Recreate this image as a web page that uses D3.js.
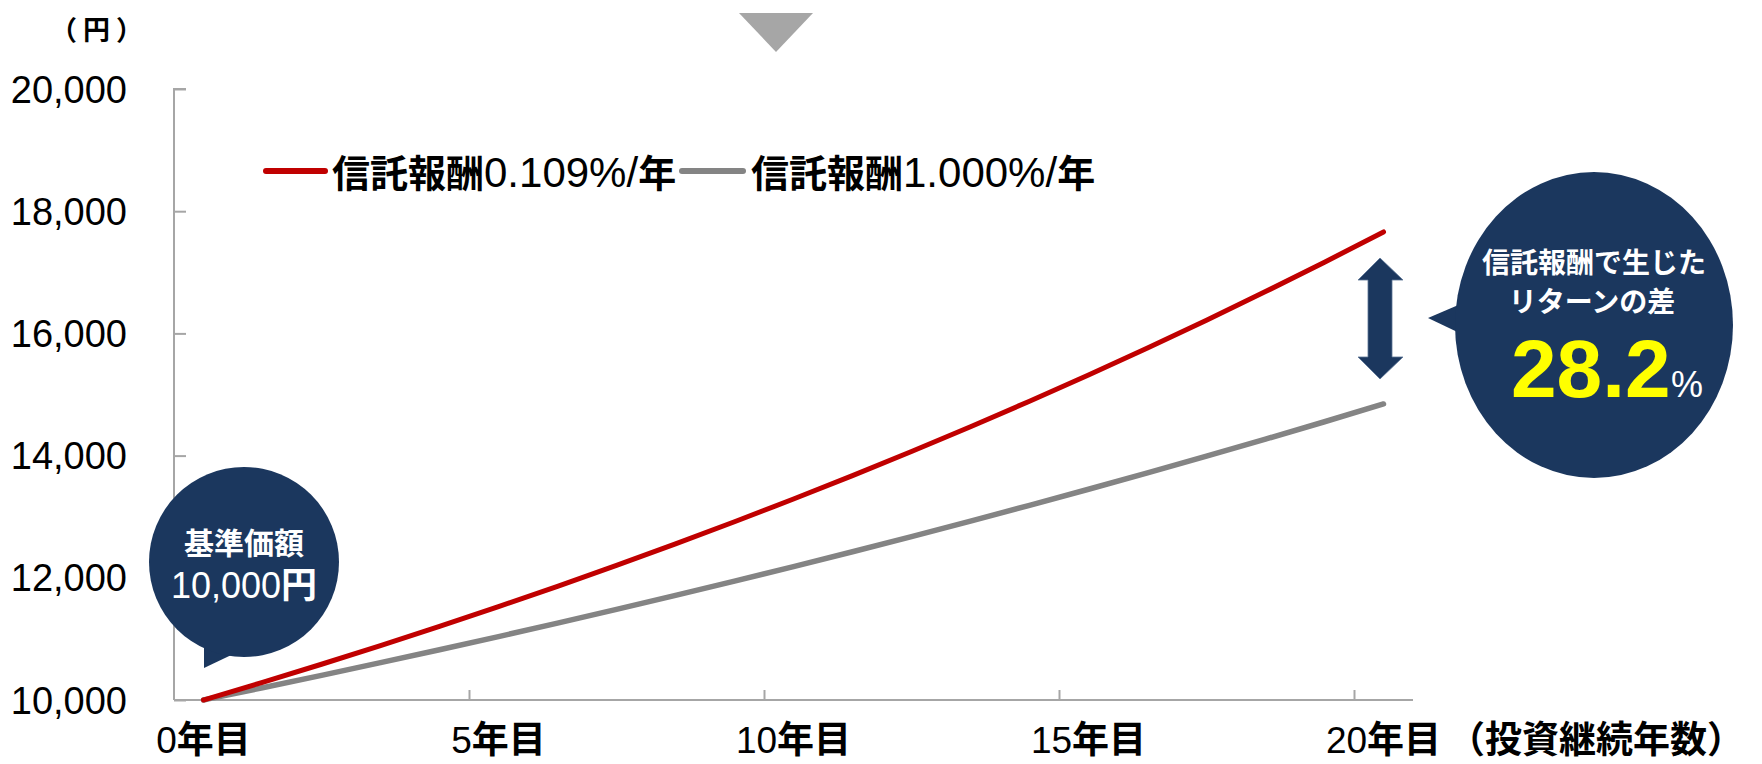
<!DOCTYPE html>
<html><head><meta charset="utf-8">
<script src="https://cdn.jsdelivr.net/npm/d3@7"></script>
<style>body{margin:0;background:#fff}svg{display:block}</style>
</head><body>
<svg id="c" width="1762" height="764"></svg>
<script>
const years = [0,1,2,3,4,5,6,7,8,9,10,11,12,13,14,15,16,17,18,19,20];
const lowFee = [10000,10288,10585,10890,11204,11528,11860,12202,12554,12917,13289,13672,14067,14472,14890,15319,15761,16216,16684,17165,17660];
const highFee = [10000,10200,10403,10611,10822,11038,11258,11483,11712,11946,12184,12427,12675,12928,13186,13449,13717,13991,14270,14554,14845];
const seriesNames = ["信託報酬0.109%/年","信託報酬1.000%/年"];
const yTicks = [10000,12000,14000,16000,18000,20000];
const xTickYears = [0,5,10,15,20];
const xTickLabels = ["0年目","5年目","10年目","15年目","20年目"];
const yUnit = "（円）";
const xUnit = "（投資継続年数）";
const baseLabel = ["基準価額","10,000円"];
const diffLabel = ["信託報酬で生じた","リターンの差"];
const diffValue = "28.2";

const NAVY = "#1b375e", RED = "#c00000", GRAY = "#848484", AXIS = "#a6a6a6";
const svg = d3.select("#c");
const x = d3.scaleLinear().domain([-0.5, 20.5]).range([174, 1413]);
const y = d3.scaleLinear().domain([10000, 20000]).range([700, 89]);
const CJK = "'Noto Sans CJK JP', sans-serif";
const LAT = "'Liberation Sans', Arial, sans-serif";

// mixed text: ascii runs normal weight latin, others bold CJK
function mixed(sel, str, asciiW, cjkW, asciiSize){
  const runs = str.match(/[\x20-\x7e]+|[^\x20-\x7e]+/g);
  runs.forEach(r=>{
    const a = /^[\x20-\x7e]+$/.test(r);
    const t = sel.append("tspan").text(r)
      .attr("font-family", a ? LAT : CJK)
      .attr("font-weight", a ? asciiW : cjkW);
    if (a && asciiSize) t.attr("font-size", asciiSize);
  });
}

// axes
const gy = svg.append("g").attr("transform","translate(174,0)")
  .call(d3.axisRight(y).tickValues(yTicks).tickSize(12).tickFormat(""));
gy.select(".domain").attr("d", `M12,${y(20000)}H0V${y(10000)}`);
const gx = svg.append("g").attr("transform","translate(0,700)")
  .call(d3.axisTop(x).tickValues(xTickYears.filter(v=>v>0).map(v=>v-0.5)).tickSize(10).tickFormat(""));
gx.select(".domain").attr("d", `M174,0H1413`);
svg.selectAll(".domain, .tick line").attr("stroke", AXIS).attr("stroke-width", 2);

// y labels
svg.append("g").selectAll("text").data(yTicks).join("text")
  .attr("x", 127).attr("y", d=>y(d)).attr("dy","0.36em")
  .attr("text-anchor","end").attr("font-family",LAT).attr("font-size",38).attr("fill","#000")
  .text(d=>d3.format(",")(d));
svg.append("text").attr("x",50).attr("y",30).attr("dy","0.36em")
  .attr("font-family",CJK).attr("font-weight",700).attr("font-size",27)
  .attr("letter-spacing",6).text(yUnit);

// x labels
svg.append("g").selectAll("text").data(xTickYears).join("text")
  .attr("x", d=>x(d)).attr("y", 740).attr("dy","0.36em").attr("text-anchor","middle")
  .attr("font-size",37).attr("fill","#000")
  .each(function(d,i){ mixed(d3.select(this), xTickLabels[i], 400, 700); });
svg.append("text").attr("x",1448).attr("y",740).attr("dy","0.36em")
  .attr("font-family",CJK).attr("font-weight",700).attr("font-size",37).text(xUnit);

// lines
const line = d3.line().x((d,i)=>x(years[i])).y(d=>y(d)).curve(d3.curveMonotoneX);
svg.append("path").datum(highFee).attr("d",line).attr("fill","none").attr("stroke",GRAY)
  .attr("stroke-width",5.5).attr("stroke-linecap","round");
svg.append("path").datum(lowFee).attr("d",line).attr("fill","none").attr("stroke",RED)
  .attr("stroke-width",5).attr("stroke-linecap","round");

// legend
const leg = [{c:RED,x0:266,x1:325,tx:332},{c:GRAY,x0:682,x1:743,tx:751}];
leg.forEach((l,i)=>{
  svg.append("line").attr("x1",l.x0).attr("x2",l.x1).attr("y1",171).attr("y2",171)
    .attr("stroke",l.c).attr("stroke-width",6).attr("stroke-linecap","round");
  const t = svg.append("text").attr("x",l.tx).attr("y",173).attr("dy","0.36em")
    .attr("font-size",38).attr("fill","#000");
  mixed(t, seriesNames[i], 400, 700, 42);
});

// top triangle
svg.append("path").attr("d","M739,13L813,13L776,52Z").attr("fill","#a6a6a6");

// left bubble
svg.append("path").attr("d","M204,630L204,668L246,648Z").attr("fill",NAVY);
svg.append("circle").attr("cx",244).attr("cy",562).attr("r",95).attr("fill",NAVY);
svg.append("text").attr("x",244).attr("y",543).attr("dy","0.36em").attr("text-anchor","middle")
  .attr("font-family",CJK).attr("font-weight",700).attr("font-size",30).attr("fill","#fff").text(baseLabel[0]);
const bt = svg.append("text").attr("x",244).attr("y",585).attr("dy","0.36em").attr("text-anchor","middle")
  .attr("font-size",36).attr("fill","#fff");
mixed(bt, baseLabel[1], 400, 700);

// right bubble
svg.append("path").attr("d","M1428,318L1470,300L1470,338Z").attr("fill",NAVY);
svg.append("ellipse").attr("cx",1594).attr("cy",325).attr("rx",139).attr("ry",153).attr("fill",NAVY);
svg.append("text").attr("x",1594).attr("y",263).attr("dy","0.36em").attr("text-anchor","middle")
  .attr("font-family",CJK).attr("font-weight",700).attr("font-size",28).attr("fill","#fff").text(diffLabel[0]);
svg.append("text").attr("x",1592).attr("y",302).attr("dy","0.36em").attr("text-anchor","middle")
  .attr("font-family",CJK).attr("font-weight",700).attr("font-size",28).attr("fill","#fff").text(diffLabel[1]);
svg.append("text").attr("x",1511).attr("y",397)
  .attr("font-family",LAT).attr("font-weight",700).attr("font-size",82).attr("fill","#ffff00").text(diffValue);
svg.append("text").attr("x",1671).attr("y",397)
  .attr("font-family",LAT).attr("font-weight",400).attr("font-size",36).attr("fill","#fff").text("%");

// double arrow
svg.append("path").attr("d","M1380,258L1403,280L1392,280L1392,357L1403,357L1380,379L1358,357L1368,357L1368,280L1358,280Z")
  .attr("fill",NAVY).attr("stroke","#5a7396").attr("stroke-width",0.8);
</script>
</body></html>
